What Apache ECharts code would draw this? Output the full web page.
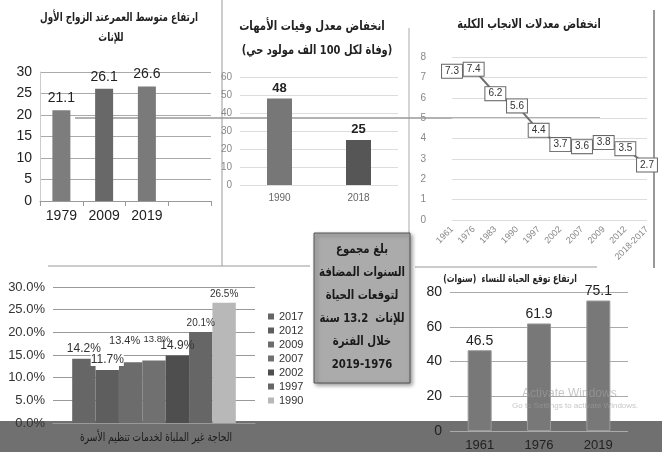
<!DOCTYPE html>
<html>
<head>
<meta charset="utf-8">
<script src="https://cdn.jsdelivr.net/npm/echarts@6/dist/echarts.min.js"></script>
<style>
  html, body { margin: 0; padding: 0; background: #fff; }
  #main { width: 662px; height: 452px; }
</style>
</head>
<body>
<div id="main"></div>
<script>
// Five small panels drawn in one ECharts instance, one grid per panel.
var ageYears = ["1979", "2009", "2019", ""];
var ageValues = [21.1, 26.1, 26.6, null];

var matYears = ["1990", "2018"];
var matValues = [48, 25];

var tfrYears = ["1961", "1976", "1983", "1990", "1997", "2002", "2007", "2009", "2012", "2018-2017"];
var tfrValues = [7.3, 7.4, 6.2, 5.6, 4.4, 3.7, 3.6, 3.8, 3.5, 2.7];

var unmetCategory = ["الحاجة غير الملباة لخدمات تنظيم الأسرة"];
var unmetYears = ["2017", "2012", "2009", "2007", "2002", "1997", "1990"];
var unmetValues = [14.2, 11.7, 13.4, 13.8, 14.9, 20.1, 26.5];

var lifeYears = ["1961", "1976", "2019"];
var lifeValues = [46.5, 61.9, 75.1];

var titles = [
  "ارتفاع متوسط العمرعند الزواج الأول", "للإناث",
  "انخفاض معدل وفيات الأمهات", "(وفاة لكل 100 الف مولود حي)",
  "انخفاض معدلات الانجاب الكلية",
  "ارتفاع توقع الحياة للنساء  (سنوات)"
];
var boxLines = ["بلغ مجموع", "السنوات المضافة", "لتوقعات الحياة", "للإناث  13.2 سنة", "خلال الفترة", "2019-1976"];

var AR = "'DejaVu Sans', 'Noto Sans', sans-serif";
var NUM = "'Liberation Sans Narrow', 'Liberation Sans', Arial, sans-serif";
var UNMET_COLOR = ["#666666", "#5e5e5e", "#6c6c6c", "#707070", "#4e4e4e", "#666666", "#b8b8b8"];
var UNMET_LABEL_SIZE = [12, 12, 11, 9.5, 12, 10, 10];
var UNMET_LABEL_OFFSET = [[0, 0], [0, 0], [-6, -12], [3, -12], [0, 0], [0, 0], [0, 0]];

var chart = echarts.init(document.getElementById("main"));

function valAxis(grid, max, step, size, color, fmt) {
  return {
    type: "value", gridIndex: grid, min: 0, max: max, interval: step,
    axisLine: { show: false }, axisTick: { show: false },
    axisLabel: { fontSize: size, color: color, fontFamily: NUM, formatter: fmt },
    splitLine: { lineStyle: { color: "#aaaaaa" } }
  };
}

function catAxis(grid, data, size, color) {
  return {
    type: "category", gridIndex: grid, data: data,
    axisLine: { lineStyle: { color: "#999999" } }, axisTick: { show: false },
    axisLabel: { fontSize: size, color: color, fontFamily: NUM }
  };
}

// condensed Arabic heading: DejaVu's Arabic is wide, so squeeze it horizontally
function arText(t, x, y, size, sx, bold, color, z) {
  return { type: "text", z: z || 5, x: x, y: y, scaleX: sx,
    style: { text: t, fontSize: size, fontWeight: bold ? "bold" : "normal", fill: color || "#222",
      fontFamily: AR, textAlign: "center", textVerticalAlign: "middle" } };
}

var xAxes = [
  catAxis(0, ageYears, 14, "#222"),
  catAxis(1, matYears, 10, "#666"),
  catAxis(2, tfrYears, 9, "#888"),
  catAxis(3, unmetCategory, 12, "#1a1a1a"),
  catAxis(4, lifeYears, 13, "#222")
];
xAxes[0].axisTick = { show: true, lineStyle: { color: "#999" } };
xAxes[1].axisLine = { show: false };
xAxes[2].boundaryGap = false;
xAxes[2].axisLine = { show: false };
xAxes[2].axisLabel.rotate = 45;
xAxes[3].axisLabel.show = false;
xAxes[4].axisLine = { show: false };
xAxes[4].axisLabel.margin = 8;

var yAxes = [
  valAxis(0, 30, 5, 14, "#222"),
  valAxis(1, 60, 10, 10, "#888"),
  valAxis(2, 8, 1, 10, "#888"),
  valAxis(3, 30, 5, 13, "#333", function (v) { return v.toFixed(1) + "%"; }),
  valAxis(4, 80, 20, 14, "#222")
];
yAxes[0].axisLine = { show: true, lineStyle: { color: "#cccccc" } };
yAxes[1].splitLine.lineStyle.color = "#dddddd";
yAxes[2].splitLine.lineStyle.color = "#dddddd";
yAxes[2].axisLabel.margin = 26;
yAxes[3].splitLine.lineStyle.color = "#999999";

var unmetSeries = unmetYears.map(function (y, i) {
  return {
    name: y, type: "bar", xAxisIndex: 3, yAxisIndex: 3,
    data: [unmetValues[i]], barGap: "0%", barCategoryGap: "19%",
    itemStyle: { color: UNMET_COLOR[i] },
    label: {
      show: true, position: "top", distance: 4,
      fontSize: UNMET_LABEL_SIZE[i], color: "#333", fontFamily: NUM,
      offset: UNMET_LABEL_OFFSET[i],
      backgroundColor: i === 1 ? "#ffffff" : "transparent",
      formatter: function (p) { return p.value.toFixed(1) + "%"; }
    }
  };
});

function colored(values, colors) {
  return values.map(function (v, i) { return { value: v, itemStyle: { color: colors[i] } }; });
}

chart.setOption({
  animation: false,
  legend: {
    data: unmetYears, orient: "vertical", left: 263, top: 306,
    itemWidth: 6, itemHeight: 6, itemGap: 3, icon: "rect",
    textStyle: { fontSize: 11, color: "#333", fontFamily: NUM }
  },
  grid: [
    { left: 40, right: 451, top: 72, bottom: 251 },
    { left: 240, right: 264, top: 77, bottom: 267 },
    { left: 452, right: 15, top: 57, bottom: 232 },
    { left: 53, right: 407, top: 287, bottom: 29 },
    { left: 450, right: 34, top: 292, bottom: 19 }
  ],
  xAxis: xAxes,
  yAxis: yAxes,
  series: [
    { type: "bar", xAxisIndex: 0, yAxisIndex: 0, barWidth: 18,
      data: colored(ageValues, ["#7d7d7d", "#686868", "#7a7a7a", "#777"]),
      label: { show: true, position: "top", fontSize: 14, color: "#222", fontFamily: NUM } },
    { type: "bar", xAxisIndex: 1, yAxisIndex: 1, barWidth: 25,
      data: colored(matValues, ["#777777", "#565656"]),
      label: { show: true, position: "top", distance: 4, fontSize: 13, fontWeight: "bold", color: "#222", fontFamily: NUM } },
    { type: "line", xAxisIndex: 2, yAxisIndex: 2, data: tfrValues,
      symbol: "circle", symbolSize: 0, showSymbol: true,
      lineStyle: { color: "#707070", width: 2 }, itemStyle: { color: "#707070" },
      label: { show: true, position: "inside", fontSize: 10, color: "#333", fontFamily: NUM,
        backgroundColor: "#ffffff", borderColor: "#666", borderWidth: 1, padding: [2, 3, 1, 3] } }
  ].concat(unmetSeries, [
    { type: "bar", xAxisIndex: 4, yAxisIndex: 4, barWidth: 24, data: lifeValues,
      itemStyle: { color: "#787878", borderColor: "#9a9a9a", borderWidth: 1 },
      label: { show: true, position: "top", distance: 2, fontSize: 14, color: "#222", fontFamily: NUM } }
  ]),
  graphic: [
    { type: "rect", z: -10, shape: { x: 0, y: 421, width: 662, height: 31 }, style: { fill: "#707070" } },
    { type: "line", z: -5, shape: { x1: 222, y1: 0, x2: 222, y2: 266 }, style: { stroke: "#999", lineWidth: 1 } },
    { type: "line", z: -5, shape: { x1: 409, y1: 28, x2: 409, y2: 233 }, style: { stroke: "#aaa", lineWidth: 1 } },
    { type: "line", z: -5, shape: { x1: 654, y1: 10, x2: 654, y2: 268 }, style: { stroke: "#777", lineWidth: 1.5 } },
    { type: "line", z: -5, shape: { x1: 75, y1: 118, x2: 600, y2: 118 }, style: { stroke: "#999", lineWidth: 1.5 } },
    { type: "line", z: -5, shape: { x1: 48, y1: 266, x2: 310, y2: 266 }, style: { stroke: "#999", lineWidth: 1 } },
    { type: "line", z: -5, shape: { x1: 415, y1: 267, x2: 597, y2: 267 }, style: { stroke: "#999", lineWidth: 1 } },
    { type: "text", z: 5, left: 522, top: 388, style: { text: "Activate Windows", fontSize: 12, fill: "rgba(160,160,160,0.6)", fontFamily: NUM } },
    { type: "text", z: 5, left: 512, top: 402, style: { text: "Go to Settings to activate Windows.", fontSize: 8, fill: "rgba(160,160,160,0.6)", fontFamily: NUM } },
    arText(titles[0], 119, 18, 12, 0.73, true),
    arText(titles[1], 111, 38, 12, 0.73, true),
    arText(titles[2], 312, 27, 13, 0.78, true),
    arText(titles[3], 317, 51, 13, 0.76, true),
    arText(titles[4], 529, 25, 13, 0.75, true),
    arText(titles[5], 510, 279, 11, 0.7, true),
    arText(unmetCategory[0], 156, 438, 12, 0.76, false, "#1a1a1a"),
    { type: "rect", z: 50, shape: { x: 314, y: 233, width: 96, height: 150 },
      style: { fill: "#ababab", stroke: "#555", lineWidth: 1, shadowBlur: 4, shadowOffsetX: 2, shadowOffsetY: 2, shadowColor: "rgba(0,0,0,0.4)" } }
  ].concat(boxLines.map(function (t, i) {
    return arText(t, 362, [250, 273, 296, 319, 342, 365][i], 13, 0.78, true, "#1a1a1a", 60);
  }))
});
</script>
</body>
</html>
